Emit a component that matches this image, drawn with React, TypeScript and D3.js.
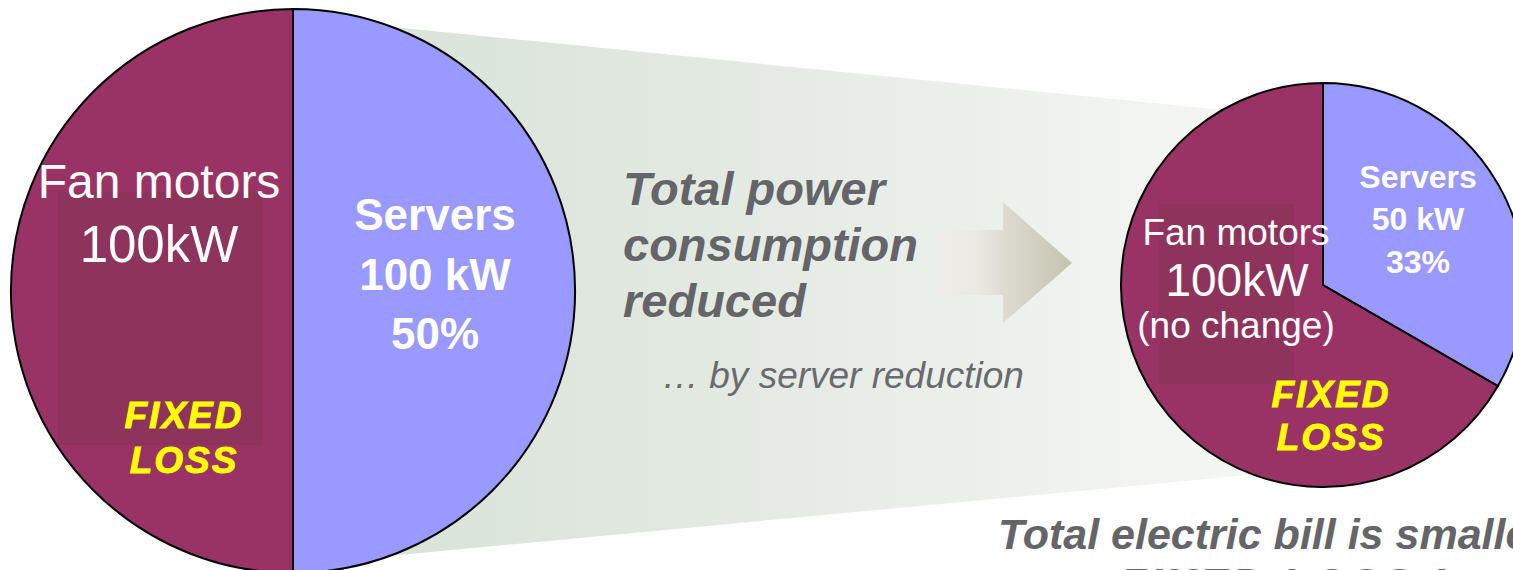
import React from "react";
import * as d3 from "d3";

// Power breakdown before and after reducing server load (kW)
const SEGMENTS = ["Servers", "Fan motors"];
const BEFORE_KW = [100, 100];
const AFTER_KW = [50, 100];
const FAN_NOTE = "(no change)";
const FIXED_LABEL = ["FIXED", "LOSS"];
const HEADLINE = ["Total power", "consumption", "reduced"];
const SUBLINE = "\u2026 by server reduction";
const FOOTER = ["Total electric bill is smaller", "FIXED LOSS !"];

const W = 1513;
const H = 570;
const FONT = "'Liberation Sans', Arial, Helvetica, sans-serif";
const COLORS = ["#9999ff", "#993366"];
const GREY = "#646469";

type PieSpec = {
  cx: number;
  cy: number;
  r: number;
  values: number[];
  shade: { x: number; y: number; w: number; h: number };
};

function PieChart({ spec, id }: { spec: PieSpec; id: string }) {
  const arcs = d3.pie<number>().sort(null).value((d) => d)(spec.values);
  const arc = d3.arc<d3.PieArcDatum<number>>().innerRadius(0).outerRadius(spec.r);
  return (
    <g transform={`translate(${spec.cx},${spec.cy})`}>
      <clipPath id={id}>
        <circle r={spec.r} />
      </clipPath>
      {arcs.map((a, i) => (
        <path key={i} d={arc(a) || ""} fill={COLORS[i]} />
      ))}
      <rect
        x={spec.shade.x - spec.cx}
        y={spec.shade.y - spec.cy}
        width={spec.shade.w}
        height={spec.shade.h}
        fill="#8e335b"
        clipPath={`url(#${id})`}
      />
      {arcs.map((a, i) => (
        <path key={"o" + i} d={arc(a) || ""} fill="none" stroke="#000" strokeWidth={2} />
      ))}
    </g>
  );
}

export default function App() {
  const beforeTotal = d3.sum(BEFORE_KW);
  const afterTotal = d3.sum(AFTER_KW);
  const pct = (v: number, t: number) => `${Math.round((v / t) * 100)}%`;

  const left: PieSpec = {
    cx: 293,
    cy: 291,
    r: 282,
    values: BEFORE_KW,
    shade: { x: 58, y: 192, w: 205, h: 253 },
  };
  const right: PieSpec = {
    cx: 1323,
    cy: 285,
    r: 202,
    values: AFTER_KW,
    shade: { x: 1159, y: 204, w: 135, h: 180 },
  };

  // Funnel band joining the two pies
  const band: [number, number][] = [
    [293, 17],
    [1323, 120],
    [1323, 468],
    [293, 565],
  ];

  const arrow: [number, number][] = [
    [936, 230],
    [1003, 230],
    [1003, 202],
    [1072, 263],
    [1003, 323],
    [1003, 295],
    [936, 295],
  ];

  const white = "#ffffff";
  const yellow = "#ffff00";

  return (
    <svg
      width={W}
      height={H}
      viewBox={`0 0 ${W} ${H}`}
      style={{ position: "absolute", left: 0, top: 0, background: "#fff" }}
      fontFamily={FONT}
    >
      <defs>
        <linearGradient id="bandGrad" gradientUnits="userSpaceOnUse" x1={293} x2={1323} y1={0} y2={0}>
          <stop offset="0" stopColor="#d8e2d7" />
          <stop offset="0.3" stopColor="#dfe7de" />
          <stop offset="0.75" stopColor="#eff2ee" />
          <stop offset="1" stopColor="#f7f8f6" />
        </linearGradient>
        <linearGradient id="arrowGrad" gradientUnits="userSpaceOnUse" x1={936} x2={1072} y1={0} y2={0}>
          <stop offset="0" stopColor="#f0eeea" />
          <stop offset="0.3" stopColor="#ebe9e3" />
          <stop offset="0.6" stopColor="#d8d6c9" />
          <stop offset="1" stopColor="#c5c3b0" />
        </linearGradient>
      </defs>

      <polygon points={band.map((p) => p.join(",")).join(" ")} fill="url(#bandGrad)" />

      <PieChart spec={left} id="clipLeft" />
      <PieChart spec={right} id="clipRight" />

      <polygon points={arrow.map((p) => p.join(",")).join(" ")} fill="url(#arrowGrad)" />

      {/* Left pie labels */}
      <g fill={white} textAnchor="middle">
        <text x={159} y={198} fontSize={48}>{SEGMENTS[1]}</text>
        <text x={159} y={262} fontSize={51}>{`${BEFORE_KW[1]}kW`}</text>
        <g fontWeight="bold" fontSize={44}>
          <text x={435} y={230}>{SEGMENTS[0]}</text>
          <text x={435} y={290}>{`${BEFORE_KW[0]} kW`}</text>
          <text x={435} y={349}>{pct(BEFORE_KW[0], beforeTotal)}</text>
        </g>
      </g>
      <g fill={yellow} stroke={yellow} strokeWidth={0.9} fontWeight="bold" fontStyle="italic" fontSize={37} letterSpacing={2} textAnchor="middle">
        <text x={184} y={428}>{FIXED_LABEL[0]}</text>
        <text x={184} y={473}>{FIXED_LABEL[1]}</text>
      </g>

      {/* Right pie labels */}
      <g fill={white} textAnchor="middle">
        <g fontWeight="bold" fontSize={32}>
          <text x={1418} y={188}>{SEGMENTS[0]}</text>
          <text x={1418} y={230}>{`${AFTER_KW[0]} kW`}</text>
          <text x={1418} y={273}>{pct(AFTER_KW[0], afterTotal)}</text>
        </g>
        <text x={1236} y={245} fontSize={37}>{SEGMENTS[1]}</text>
        <text x={1237} y={296} fontSize={46}>{`${AFTER_KW[1]}kW`}</text>
        <text x={1236} y={338} fontSize={37}>{FAN_NOTE}</text>
      </g>
      <g fill={yellow} stroke={yellow} strokeWidth={0.9} fontWeight="bold" fontStyle="italic" fontSize={37} letterSpacing={2} textAnchor="middle">
        <text x={1331} y={407}>{FIXED_LABEL[0]}</text>
        <text x={1331} y={450}>{FIXED_LABEL[1]}</text>
      </g>

      {/* Middle captions */}
      <g fill={GREY} fontWeight="bold" fontStyle="italic" fontSize={47}>
        {HEADLINE.map((line, i) => (
          <text key={i} x={623} y={205 + i * 56}>{line}</text>
        ))}
      </g>
      <text x={662} y={388} fill="#6a6a70" fontStyle="italic" fontSize={37}>{SUBLINE}</text>

      {/* Footer */}
      <g fill={GREY} fontWeight="bold" fontStyle="italic" fontSize={43}>
        <text x={998} y={549}>{FOOTER[0]}</text>
        <text x={1120} y={598} letterSpacing={4}>{FOOTER[1]}</text>
      </g>
    </svg>
  );
}
